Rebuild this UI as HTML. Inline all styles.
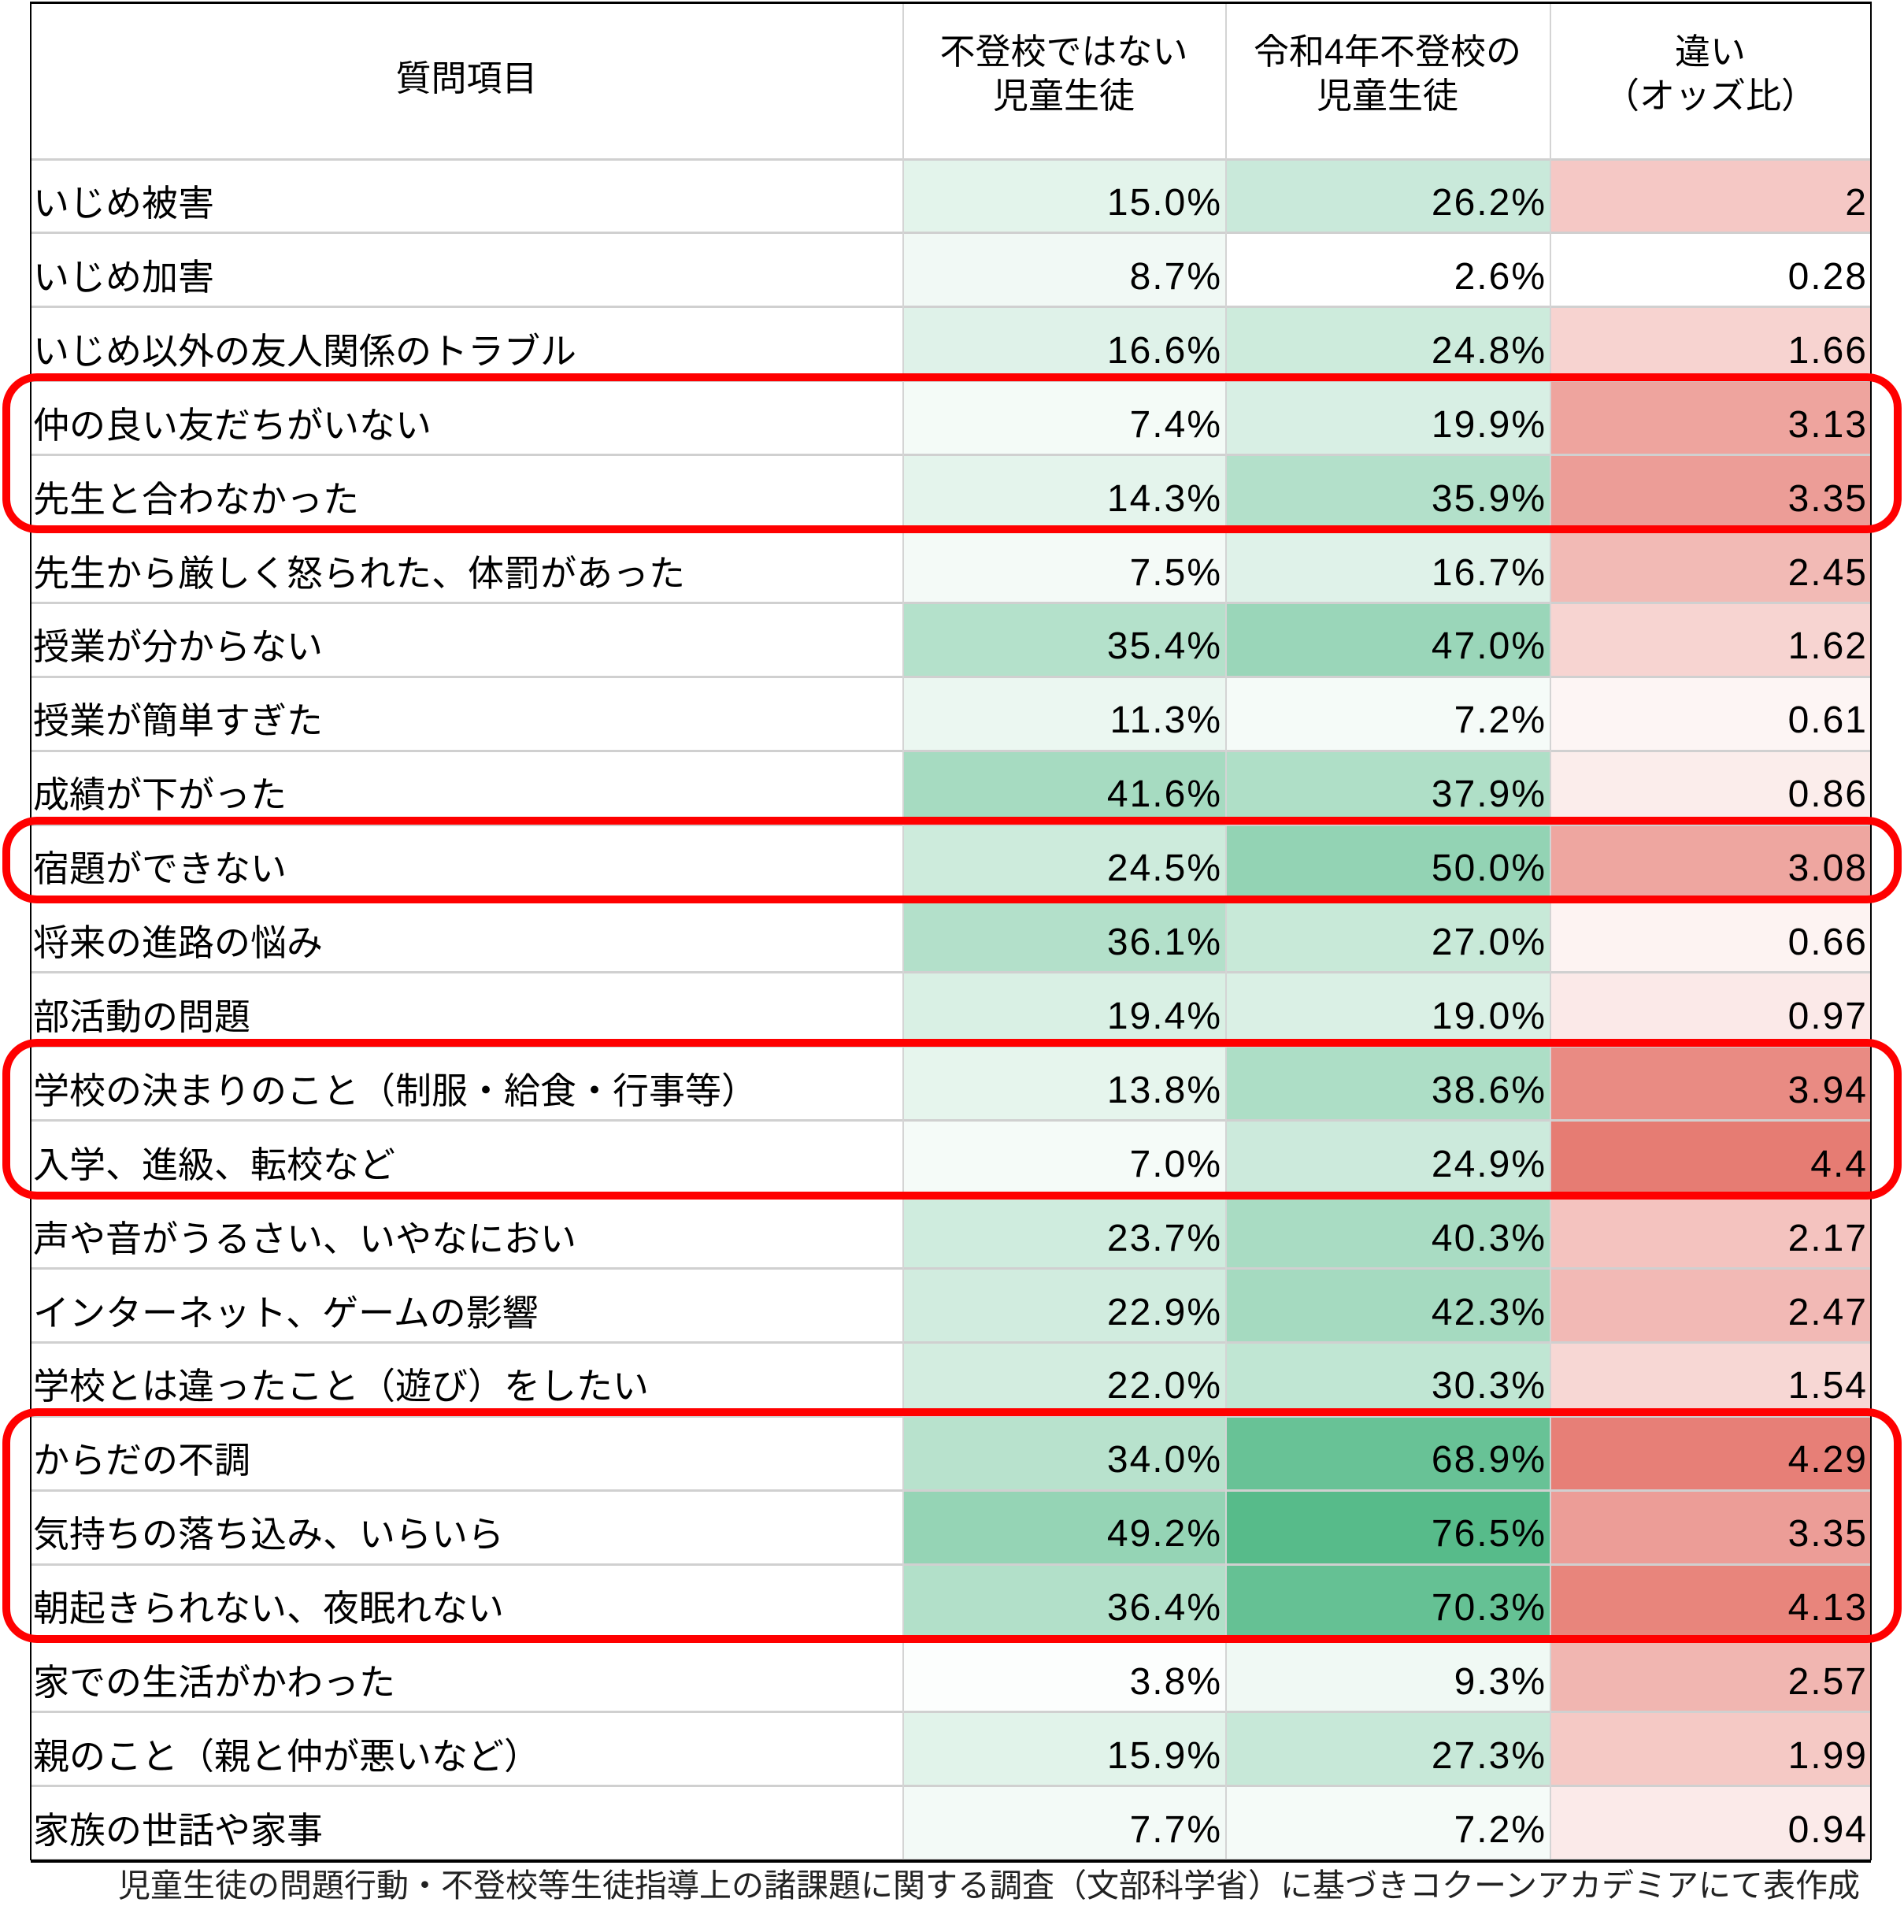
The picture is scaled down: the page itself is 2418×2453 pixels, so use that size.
<!DOCTYPE html>
<html><head><meta charset="utf-8">
<style>
html,body{margin:0;padding:0;background:#fff;}
#wrap{position:relative;width:2418px;height:2453px;overflow:hidden;font-family:"Liberation Sans","Noto Sans CJK JP",sans-serif;color:#000;}
.cell{position:absolute;box-sizing:border-box;font-size:46px;line-height:46px;white-space:nowrap;}
.num{text-align:right;padding-right:4px;letter-spacing:2px;font-size:48px;}
.hdr{position:absolute;text-align:center;font-size:45px;line-height:56px;}
.box{position:absolute;border:10px solid #ff0000;border-radius:44px;box-sizing:border-box;}
</style></head>
<body>
<div id="wrap"></div>
<script>
const items = ["いじめ被害","いじめ加害","いじめ以外の友人関係のトラブル","仲の良い友だちがいない","先生と合わなかった","先生から厳しく怒られた、体罰があった","授業が分からない","授業が簡単すぎた","成績が下がった","宿題ができない","将来の進路の悩み","部活動の問題","学校の決まりのこと（制服・給食・行事等）","入学、進級、転校など","声や音がうるさい、いやなにおい","インターネット、ゲームの影響","学校とは違ったこと（遊び）をしたい","からだの不調","気持ちの落ち込み、いらいら","朝起きられない、夜眠れない","家での生活がかわった","親のこと（親と仲が悪いなど）","家族の世話や家事"];
const notTruant = [15.0,8.7,16.6,7.4,14.3,7.5,35.4,11.3,41.6,24.5,36.1,19.4,13.8,7.0,23.7,22.9,22.0,34.0,49.2,36.4,3.8,15.9,7.7];
const truant = [26.2,2.6,24.8,19.9,35.9,16.7,47.0,7.2,37.9,50.0,27.0,19.0,38.6,24.9,40.3,42.3,30.3,68.9,76.5,70.3,9.3,27.3,7.2];
const oddsLabels = ["2","0.28","1.66","3.13","3.35","2.45","1.62","0.61","0.86","3.08","0.66","0.97","3.94","4.4","2.17","2.47","1.54","4.29","3.35","4.13","2.57","1.99","0.94"];
const highlightGroups = [[3,4],[9,9],[12,13],[17,19]];

const W = document.getElementById('wrap');
const L=39, R=2376, cols=[39,1146,1556,1968,2376], top0=202, rowH=93.9, tableTop=2;
const gMin=Math.min(...notTruant,...truant), gMax=Math.max(...notTruant,...truant);
const odds=oddsLabels.map(Number);
const rMin=Math.min(...odds), rMax=Math.max(...odds);
function mix(c,t){return 'rgb('+c.map(v=>Math.round(255-(255-v)*t)).join(',')+')';}
function green(v){return mix([87,187,138],(v-gMin)/(gMax-gMin));}
function red(v){return mix([230,124,115],(v-rMin)/(rMax-rMin));}
function div(cls,x,y,w,h,txt,bg){const d=document.createElement('div');d.className=cls;d.style.left=x+'px';d.style.top=y+'px';d.style.width=w+'px';d.style.height=h+'px';if(bg)d.style.background=bg;if(txt!=null)d.textContent=txt;W.appendChild(d);return d;}

let h;
h=div('hdr',cols[0],72,cols[1]-cols[0],60,'質問項目');


const heads=[['不登校ではない','児童生徒'],['令和4年不登校の','児童生徒'],['違い','（オッズ比）']];
const hn=['header-not-truant','header-truant-r4','header-odds-ratio'];
for(let i=0;i<3;i++){
  h=div('hdr',cols[i+1],38,cols[i+2]-cols[i+1],120,null);
  h.innerHTML=heads[i][0]+'<br>'+heads[i][1];
  
  
}
for(let r=0;r<items.length;r++){
  const y=top0+r*rowH;
  let c=div('cell',cols[0]+3,y,cols[1]-cols[0],rowH,items[r]);
  c.style.paddingTop='33px';
  
  
  c=div('cell num',cols[1],y,cols[2]-cols[1],rowH,notTruant[r].toFixed(1)+'%',green(notTruant[r]));
  c.style.paddingTop='33px';
  
  
  c=div('cell num',cols[2],y,cols[3]-cols[2],rowH,truant[r].toFixed(1)+'%',green(truant[r]));
  c.style.paddingTop='33px';
  
  
  c=div('cell num',cols[3],y,cols[4]-cols[3],rowH,oddsLabels[r],red(odds[r]));
  c.style.paddingTop='33px';
  
  
}
for(let r=0;r<=items.length;r++){
  const g=div('',L,top0+r*rowH-1.5,R-L,3,null,'#d0d0d0');
  g.style.position='absolute';
  
  
}
for(let i=1;i<4;i++){
  const g=div('',cols[i],tableTop,1.5,top0+items.length*rowH-tableTop,null,'#d4d4d4');
  g.style.position='absolute';
  
  
}
const bottom=top0+items.length*rowH;
[[L,tableTop,R-L,3],[L-1,tableTop,2,bottom-tableTop],[R-1,tableTop,2,bottom-tableTop],[L,bottom-1,R-L,4]].forEach(b=>{
  const g=div('',b[0],b[1],b[2],b[3],null,'#000');
  g.style.position='absolute';
  
  
});
highlightGroups.forEach(gr=>{
  const y0=top0+gr[0]*rowH-10, y1=top0+(gr[1]+1)*rowH+6;
  const b=div('box',3,y0,2412,y1-y0,null);
  
  
});
const cap=div('cell',60,2374,2302,50,'児童生徒の問題行動・不登校等生徒指導上の諸課題に関する調査（文部科学省）に基づきコクーンアカデミアにて表作成');
cap.style.fontSize='41px';cap.style.lineHeight='41px';cap.style.textAlign='right';cap.style.color='#222';


</script>
</body></html>
